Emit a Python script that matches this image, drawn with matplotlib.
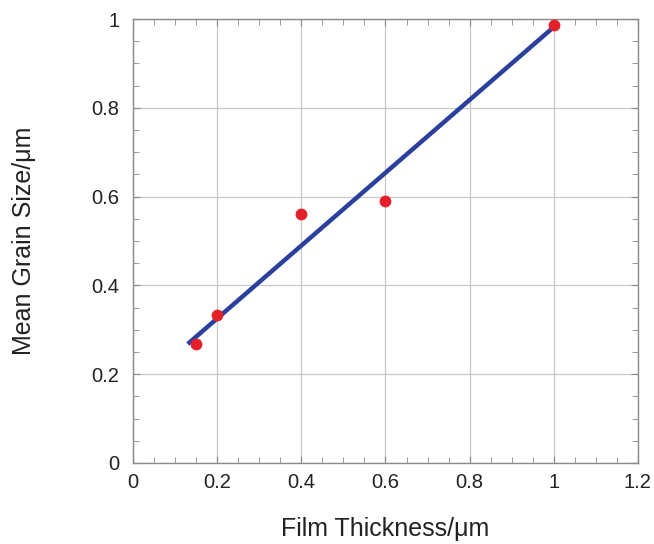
import matplotlib
matplotlib.use('Agg')
import matplotlib.pyplot as plt
from matplotlib.ticker import MultipleLocator

# measured points
thickness = [0.15, 0.2, 0.4, 0.6, 1.0]
grain_size = [0.267, 0.334, 0.561, 0.591, 0.986]

# linear fit line (end points)
fit_x = [0.13, 1.0]
fit_y = [0.268, 0.982]

x_ticks = [0, 0.2, 0.4, 0.6, 0.8, 1, 1.2]
x_labels = ['0', '0.2', '0.4', '0.6', '0.8', '1', '1.2']
y_ticks = [0, 0.2, 0.4, 0.6, 0.8, 1]
y_labels = ['0', '0.2', '0.4', '0.6', '0.8', '1']


def main():
    plt.rcParams['font.family'] = ['Liberation Sans', 'DejaVu Sans']
    fig = plt.figure(figsize=(6.54, 5.44), dpi=100)
    ax = fig.add_axes([0.2034, 0.149, 0.772, 0.816])

    ax.plot(fit_x, fit_y, color='#2b3f9c', linewidth=3.2, solid_capstyle='butt', zorder=3)
    ax.plot(thickness, grain_size, 'o', color='#e5202a', markersize=8.5,
            markeredgewidth=0, zorder=4)

    ax.set_xlim(0, 1.2)
    ax.set_ylim(0, 1)
    ax.set_xticks(x_ticks)
    ax.set_xticklabels(x_labels)
    ax.set_yticks(y_ticks)
    ax.set_yticklabels(y_labels)
    ax.xaxis.set_minor_locator(MultipleLocator(0.05))
    ax.yaxis.set_minor_locator(MultipleLocator(0.05))

    ax.grid(True, which='major', color='#c8c8c8', linewidth=0.9)
    for s in ax.spines.values():
        s.set_color('#8a8a8a')
        s.set_linewidth(1.0)
    ax.tick_params(which='both', direction='in', top=True, right=True, colors='#8a8a8a')
    ax.tick_params(which='major', length=5, labelsize=14.5, labelcolor='#222222', pad=7)
    ax.tick_params(which='minor', length=4)
    ax.tick_params(axis='y', which='major', pad=10)

    ax.set_xlabel('Film Thickness/\u03bcm', fontsize=18, color='#222222', labelpad=18)
    ax.set_ylabel('Mean Grain Size/\u03bcm', fontsize=18, color='#222222', labelpad=40)

    fig.savefig('out.png', dpi=100)


if __name__ == '__main__':
    main()
